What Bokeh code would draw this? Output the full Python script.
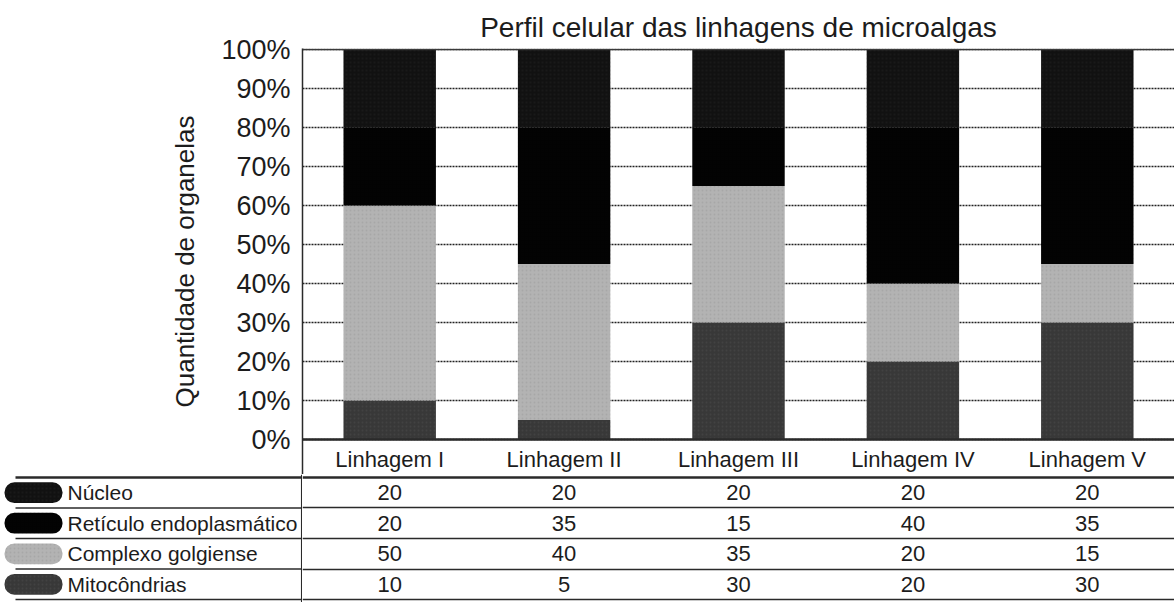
from bokeh.plotting import figure
from bokeh.models import ColumnDataSource, FactorRange, Range1d, FixedTicker, Span
from bokeh.layouts import column, row
from bokeh.embed import file_html
from bokeh.resources import INLINE
from bokeh.core.properties import value

# ---------------- data ----------------
title_text = "Perfil celular das linhagens de microalgas"
y_axis_title = "Quantidade de organelas"
categories = ["Linhagem I", "Linhagem II", "Linhagem III", "Linhagem IV", "Linhagem V"]
organelles = ["Núcleo", "Retículo endoplasmático", "Complexo golgiense", "Mitocôndrias"]
nucleo = [20, 20, 20, 20, 20]
reticulo = [20, 35, 15, 40, 35]
golgi = [50, 40, 35, 20, 15]
mitocondrias = [10, 5, 30, 20, 30]
y_ticks = [0, 10, 20, 30, 40, 50, 60, 70, 80, 90, 100]
y_tick_labels = ["0%", "10%", "20%", "30%", "40%", "50%", "60%", "70%", "80%", "90%", "100%"]

# ---------------- styling ----------------
FONT = "Liberation Sans"
TXT = "#1c1c1c"
LINE = "#2a2a2a"
series = {"Núcleo": nucleo, "Retículo endoplasmático": reticulo,
          "Complexo golgiense": golgi, "Mitocôndrias": mitocondrias}
keys = {"Núcleo": "nuc", "Retículo endoplasmático": "ret",
        "Complexo golgiense": "gol", "Mitocôndrias": "mit"}
fills = {"Núcleo": "#111111", "Retículo endoplasmático": "#020202",
         "Complexo golgiense": "#b3b3b3", "Mitocôndrias": "#383838"}
hatches = {"Núcleo": "#2c2c2c", "Retículo endoplasmático": "#020202",
           "Complexo golgiense": "#8c8c8c", "Mitocôndrias": "#5a5a5a"}
stack_order = ["Mitocôndrias", "Complexo golgiense", "Retículo endoplasmático", "Núcleo"]

W_TOTAL = 1174
LEFT = 302
A_H = 474
B_H = 128
TOP = 48
ZERO_PX = 439
PX = 3.9
y_end = 100 + (ZERO_PX - 100 * PX - TOP) / PX
y_start = -(A_H - ZERO_PX) / PX
header_y = -20 / PX

# ---------------- chart ----------------
src = ColumnDataSource(dict(cat=categories, **{keys[o]: series[o] for o in organelles}))

p = figure(width=W_TOTAL, height=A_H, x_range=FactorRange(*categories),
           y_range=Range1d(y_start, y_end), x_axis_location=None,
           output_backend="svg", toolbar_location=None,
           min_border_left=LEFT, min_border_right=0, min_border_top=TOP, min_border_bottom=0,
           title=title_text)
p.x_range.range_padding = 0
p.outline_line_color = None
p.background_fill_color = "white"
p.border_fill_color = "white"

p.title.text_font = FONT
p.title.text_font_size = "28px"
p.title.text_font_style = "normal"
p.title.text_color = TXT
p.title.align = "center"
p.title.standoff = 12

p.xgrid.grid_line_color = None
p.yaxis.ticker = FixedTicker(ticks=y_ticks)
p.yaxis.major_label_overrides = {t: l for t, l in zip(y_ticks, y_tick_labels)}
p.yaxis.major_label_text_font = FONT
p.yaxis.major_label_text_font_size = "27px"
p.yaxis.major_label_text_color = TXT
p.yaxis.major_label_standoff = 12
p.yaxis.major_tick_line_color = None
p.yaxis.major_tick_out = 0
p.yaxis.major_tick_in = 0
p.yaxis.minor_tick_line_color = None
p.yaxis.axis_line_color = LINE
p.yaxis.axis_line_width = 1.5
p.yaxis.axis_label = y_axis_title
p.yaxis.axis_label_text_font = FONT
p.yaxis.axis_label_text_font_size = "26px"
p.yaxis.axis_label_text_font_style = "normal"
p.yaxis.axis_label_text_color = TXT
p.yaxis.axis_label_standoff = 18

p.ygrid.grid_line_color = "#222222"
p.ygrid.grid_line_dash = "2 1"
p.ygrid.grid_line_width = 1.6

p.vbar_stack([keys[o] for o in stack_order], x="cat", width=0.53, source=src,
             fill_color=[fills[o] for o in stack_order], line_color=None,
             hatch_pattern="dot", hatch_scale=4, hatch_alpha=0.3,
             hatch_color=[hatches[o] for o in stack_order])

p.add_layout(Span(location=100, dimension="width", line_color="#3a3a3a", line_width=1.5))
p.add_layout(Span(location=0, dimension="width", line_color=LINE, line_width=2.5))

p.text(x=categories, y=[header_y] * len(categories), text=categories,
       text_font=value(FONT), text_font_size="22px", text_color=TXT,
       text_align="center", text_baseline="middle")

# ---------------- table ----------------
rows_range = FactorRange(factors=organelles[::-1], range_padding=0.096, range_padding_units="absolute")
bounds = [0, 1, 2, 3, 4]
bound_w = [1.5, 1.5, 1.5, 1.5, 2.5]

leg = figure(width=LEFT, height=B_H, x_range=Range1d(0, LEFT), y_range=rows_range,
             x_axis_location=None, y_axis_location=None,
             output_backend="svg", toolbar_location=None,
             min_border_left=0, min_border_right=0, min_border_top=0, min_border_bottom=0)
leg.outline_line_color = None
leg.xgrid.grid_line_color = None
leg.ygrid.grid_line_color = None
leg.hbar(y=organelles, left=4, right=62, height=0.68,
         fill_color=[fills[o] for o in organelles], line_color=None,
         hatch_pattern="dot", hatch_scale=4, hatch_alpha=0.3,
         hatch_color=[hatches[o] for o in organelles], border_radius=10)
leg.text(x=[67] * len(organelles), y=organelles, text=organelles,
         text_font=value(FONT), text_font_size="21px", text_color=TXT,
         text_align="left", text_baseline="middle")
leg.segment(x0=[15] * 5, x1=[LEFT] * 5, y0=bounds, y1=bounds, line_color=LINE, line_width=bound_w)
leg.add_layout(Span(location=LEFT - 0.8, dimension="height", line_color=LINE, line_width=1.5))

tx, ty, tt = [], [], []
for o in organelles:
    for c, v in zip(categories, series[o]):
        tx.append(c)
        ty.append(o)
        tt.append(str(v))

tab = figure(width=W_TOTAL - LEFT, height=B_H, x_range=p.x_range, y_range=rows_range,
             x_axis_location=None, y_axis_location=None,
             output_backend="svg", toolbar_location=None,
             min_border_left=0, min_border_right=0, min_border_top=0, min_border_bottom=0)
tab.outline_line_color = None
tab.xgrid.grid_line_color = None
tab.ygrid.grid_line_color = None
tab.hspan(y=bounds, line_color=LINE, line_width=bound_w)
tab.text(x=tx, y=ty, text=tt, text_font=value(FONT), text_font_size="22px",
         text_color=TXT, text_align="center", text_baseline="middle")

layout = column(p, row(leg, tab))
open("out.html", "w").write(file_html(layout, INLINE))
